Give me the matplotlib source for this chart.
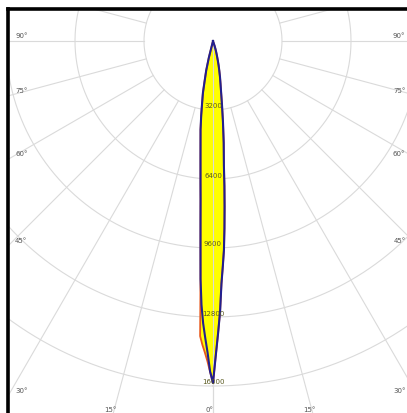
import numpy as np
import matplotlib
matplotlib.use("Agg")
import matplotlib.pyplot as plt

# ---- data (luminous intensity, cd, vs. gamma angle in degrees) ----
gamma = [0, 0.5, 1, 1.5, 2, 2.5, 3, 3.5, 4, 4.5, 5, 6, 7, 8, 9, 10, 11, 12, 13, 14, 15, 16, 17, 18, 20, 90]
blue_right = [15860, 14600, 13550, 12550, 11250, 10450, 9700, 8700, 7700, 6750, 5800, 4750, 3800, 3000,
              2400, 2000, 1700, 1400, 1150, 900, 700, 540, 400, 250, 0, 0]
blue_left = [15860, 15330, 14450, 13770, 13100, 12240, 11050, 9500, 8300, 7350, 6650, 5550, 4750, 4150,
             3500, 2900, 2450, 1800, 1400, 800, 0, 0, 0, 0, 0, 0]
orange_right = blue_right
orange_left = [15860, 15350, 14850, 14450, 14100, 13700, 11050, 9500, 8300, 7350, 6650, 5550, 4750, 4150,
               3500, 2900, 2450, 1800, 1400, 800, 0, 0, 0, 0, 0, 0]

ring_values = [3200, 6400, 9600, 12800, 16000]
ring_labels = ["3200", "6400", "9600", "12800", "16000"]
spoke_angles = list(range(0, 360, 15))
edge_labels = ["90°", "75°", "60°", "45°", "30°"]
edge_angles = [90, 75, 60, 45, 30]
bottom_labels = ["15°", "0°", "15°"]
bottom_angles = [-15, 0, 15]

# ---- figure ----
W, H = 407, 414
fig = plt.figure(figsize=(W / 100, H / 100), dpi=100)
ax = fig.add_axes([8 / W, 0, 399 / W, 404 / H])
cdpx = 3200 / 69.0  # cd per pixel
ax.set_xlim(-205 * cdpx, 194 * cdpx)
ax.set_ylim(-372 * cdpx, 32 * cdpx)
ax.set_aspect("equal")
ax.set_xticks([])
ax.set_yticks([])
for s in ["right", "bottom"]:
    ax.spines[s].set_visible(False)
for s in ["left", "top"]:
    ax.spines[s].set_linewidth(2.6)
    ax.spines[s].set_color("black")

grid_c = "#dadada"
t = np.linspace(0, 2 * np.pi, 721)
for r in ring_values:
    ax.plot(r * np.sin(t), -r * np.cos(t), color=grid_c, lw=0.8, zorder=1)
Rmax = 30000
for a in spoke_angles:
    ar = np.radians(a)
    ax.plot([ring_values[0] * np.sin(ar), Rmax * np.sin(ar)],
            [-ring_values[0] * np.cos(ar), -Rmax * np.cos(ar)], color=grid_c, lw=0.8, zorder=1)


def curve(left, right):
    g = np.radians(np.array(gamma))
    L = np.array(left, float)
    R = np.array(right, float)
    xl, yl = -L * np.sin(g), -L * np.cos(g)
    xr, yr = R * np.sin(g), -R * np.cos(g)
    x = np.concatenate([xl[::-1], xr])
    y = np.concatenate([yl[::-1], yr])
    return x, y


xo, yo = curve(orange_left, orange_right)
xb, yb = curve(blue_left, blue_right)
ax.fill(xo, yo, color="#ffff00", lw=0, zorder=2)
ax.fill(xb, yb, color="#ffff00", lw=0, zorder=2)
# 0° axis over the fill
ax.plot([0, 0], [0, -Rmax], color=grid_c, lw=0.8, zorder=3)
ax.plot(xo, yo, color="#e8581c", lw=1.3, zorder=4)
ax.plot(xb, yb, color="#22208f", lw=1.5, zorder=5)

for v, lab in zip(ring_values, ring_labels):
    ax.text(0, -v + 1.5 * cdpx, lab, ha="center", va="bottom", fontsize=5, color="#5a5a20", zorder=6)

# edge labels (same height on both sides)
x_left_edge = -205 * cdpx
x_right_edge = 194 * cdpx
for a, lab in zip(edge_angles, edge_labels):
    y_hit = x_left_edge / np.tan(np.radians(a)) if a != 90 else 0
    ax.text(x_left_edge + 7 * cdpx, y_hit + 3 * cdpx, lab, ha="left", va="bottom",
            fontsize=5, color="#555555", zorder=6)
    ax.text(x_right_edge - 1.5 * cdpx, y_hit + 3 * cdpx, lab, ha="right", va="bottom",
            fontsize=5, color="#555555", zorder=6)
y_bot = -372 * cdpx
for a, lab in zip(bottom_angles, bottom_labels):
    xh = -y_bot * np.tan(np.radians(a))
    ax.text(xh - 3 * cdpx, y_bot + 1 * cdpx, lab, ha="center", va="bottom",
            fontsize=5, color="#555555", zorder=6)

fig.savefig("out.png", dpi=100, facecolor="white")
